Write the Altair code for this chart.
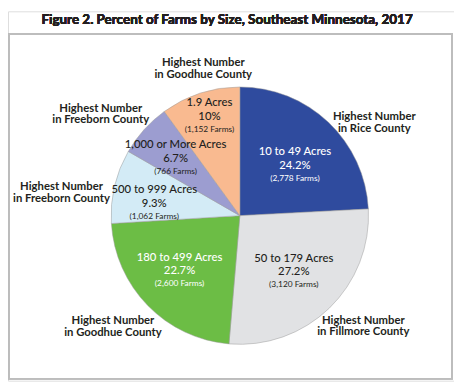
import altair as alt
import pandas as pd

sizes = ["10 to 49 Acres", "50 to 179 Acres", "180 to 499 Acres",
         "500 to 999 Acres", "1,000 or More Acres", "1.9 Acres"]
percents = [24.2, 27.2, 22.7, 9.3, 6.7, 10.0]
pct_labels = ["24.2%", "27.2%", "22.7%", "9.3%", "6.7%", "10%"]
farms = [2778, 3120, 2600, 1062, 766, 1152]
counties = ["Rice", "Fillmore", "Goodhue", "Freeborn", "Freeborn", "Goodhue"]
colors = ["#2f4b9e", "#e1e2e4", "#6cbd45", "#d3ebf6", "#9c9dd0", "#f9ba90"]
title_text = "Figure 2. Percent of Farms by Size, Southeast Minnesota, 2017"

df = pd.DataFrame({
    "idx": list(range(len(sizes))),
    "size": sizes,
    "pct": percents,
    "pct_label": pct_labels,
    "farms_label": [f"({n:,} Farms)" for n in farms],
    "line1": ["Highest Number"] * len(sizes),
    "line2": [f"in {c} County" for c in counties],
})

FONT = "Lato"
CX, CY, R = 236, 208, 131
W, H = 454, 376

white_cond = "datum.idx == 0 || datum.idx == 2"
tcolor = alt.condition(white_cond, alt.value("white"), alt.value("#231f20"))

arcs = alt.Chart(df).mark_arc(radius=R, stroke="#9a9a9a", strokeWidth=0.5).encode(
    theta=alt.Theta("pct:Q", stack=True, scale=alt.Scale(domain=[0, sum(percents)])),
    order=alt.Order("idx:Q"),
    x=alt.value(CX),
    y=alt.value(CY),
    color=alt.Color("size:N", scale=alt.Scale(domain=sizes, range=colors), legend=None),
)

# label angles: middle of each slice (cumulative share), with small placement nudges
lab = alt.Chart(df).transform_joinaggregate(
    total="sum(pct)"
).transform_window(
    cum="sum(pct)", sort=[alt.SortField("idx")]
).transform_calculate(
    mid="(datum.cum - datum.pct / 2) / datum.total * 2 * PI",
    ain="datum.mid + [4, 0, 2, -5, 0, 1][datum.idx] * PI / 180",
    rin="[76, 79, 83, 88, 88, 106][datum.idx]",
    aout="datum.mid + [12, -4, 3, -6, -6, 4][datum.idx] * PI / 180",
    rout="[166, 169, 172, 183, 175, 154][datum.idx]",
).encode(x=alt.value(CX), y=alt.value(CY))

def inner_text(field, size, dy, weight="normal"):
    return lab.mark_text(font=FONT, fontSize=size, fontWeight=weight, dy=dy).encode(
        theta=alt.Theta("ain:Q", scale=None),
        radius=alt.Radius("rin:Q", scale=None),
        text=f"{field}:N",
        color=tcolor,
    )

def outer_text(field, dy):
    return lab.mark_text(font=FONT, fontSize=11.5, fontWeight="bold", color="#231f20", dy=dy).encode(
        theta=alt.Theta("aout:Q", scale=None),
        radius=alt.Radius("rout:Q", scale=None),
        text=f"{field}:N",
    )

name_t = inner_text("size", 11.5, -13, 500)
pct_t = inner_text("pct_label", 11.5, 1, 500)
farm_t = inner_text("farms_label", 8.5, 13)
out1 = outer_text("line1", -6)
out2 = outer_text("line2", 6)

border = alt.Chart(df).mark_rect(fill=None, stroke="#bdbdbd", strokeWidth=1.5).encode(
    x=alt.value(1), x2=alt.value(452), y=alt.value(23), y2=alt.value(374)
)
title = alt.Chart(df).mark_text(font=FONT, fontSize=13.7, fontWeight="bold", color="#231f20").encode(
    x=alt.value(223), y=alt.value(9), text=alt.value(title_text)
)

chart = alt.layer(border, arcs, name_t, pct_t, farm_t, out1, out2, title).properties(
    width=W, height=H, autosize=alt.AutoSizeParams(type="none"), padding=0
).resolve_scale(theta="independent", radius="independent").configure_view(
    stroke=None
).configure(background="white")

chart.save("out.html", embed_options={"renderer": "svg", "actions": False})
